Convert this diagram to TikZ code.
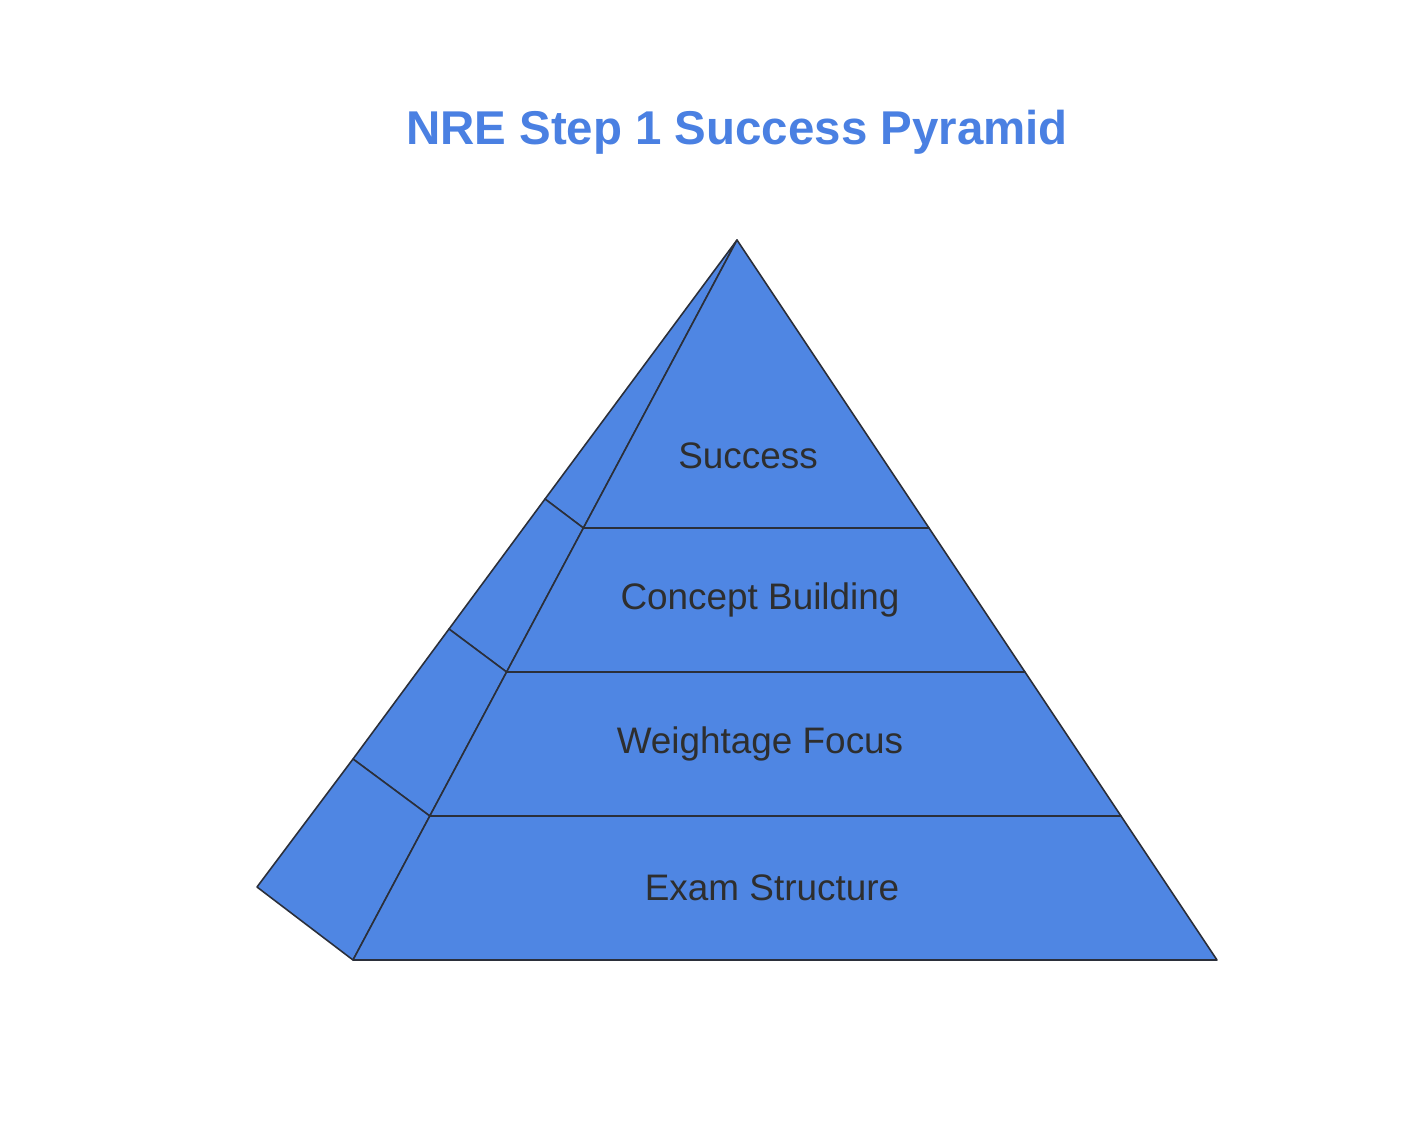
\documentclass[tikz,border=0pt]{standalone}
\usepackage{fontspec}
\setmainfont{Liberation Sans}
\definecolor{pyrblue}{HTML}{4F86E3}
\definecolor{titleblue}{HTML}{4A80E2}
\definecolor{edgegray}{HTML}{2B2F3A}
\definecolor{labelgray}{HTML}{2E2E2E}
\begin{document}
\begin{tikzpicture}[x=0.02cm,y=-0.02cm,
  face/.style={fill=pyrblue,draw=edgegray,line width=0.9pt,line join=round},
  layerlabel/.style={text=labelgray,font=\fontsize{21}{25}\selectfont}]
  \useasboundingbox (0,0) rectangle (1402,1125);
  % Title
  \node[text=titleblue,font=\bfseries\fontsize{27}{32}\selectfont] (title) at (737,132) {NRE Step 1 Success Pyramid};
  % Corners
  \coordinate (apex) at (737,240);
  \coordinate (bl) at (353,960);
  \coordinate (br) at (1217,960);
  \coordinate (bk) at (257,887);
  % Side face strips
  \draw[face] (apex) -- (545,499) -- (583.4,528) -- cycle;
  \draw[face] (545,499) -- (449,629) -- (506.6,672) -- (583.4,528) -- cycle;
  \draw[face] (449,629) -- (353,759) -- (429.8,816) -- (506.6,672) -- cycle;
  \draw[face] (353,759) -- (bk) -- (bl) -- (429.8,816) -- cycle;
  % Front layers
  \draw[face] (apex) -- (583.4,528) -- (929,528) -- cycle;
  \draw[face] (583.4,528) -- (506.6,672) -- (1025,672) -- (929,528) -- cycle;
  \draw[face] (506.6,672) -- (429.8,816) -- (1121,816) -- (1025,672) -- cycle;
  \draw[face] (429.8,816) -- (bl) -- (br) -- (1121,816) -- cycle;
  % Labels
  \node[layerlabel] (success) at (748,456) {Success};
  \node[layerlabel] (concept) at (760,600) {Concept Building};
  \node[layerlabel] (weight) at (760,744) {Weightage Focus};
  \node[layerlabel] (exam) at (772,888) {Exam Structure};
\end{tikzpicture}
\end{document}
